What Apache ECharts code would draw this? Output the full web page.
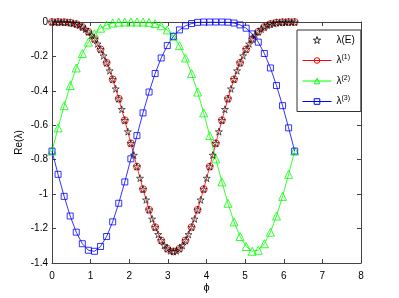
<!DOCTYPE html>
<html><head><meta charset="utf-8">
<script src="https://cdn.jsdelivr.net/npm/echarts@6/dist/echarts.min.js"></script>
<style>html,body{margin:0;padding:0;background:#fff}#c{width:399px;height:298px}</style>
</head><body><div id="c"></div>
<script>
// phi sample points (coarse, for λ(1), λ(2), λ(3))
const phi41 = [0,0.157,0.314,0.471,0.628,0.785,0.942,1.100,1.257,1.414,1.571,1.728,1.885,2.042,2.199,2.356,2.513,2.670,2.827,2.985,3.142,3.299,3.456,3.613,3.770,3.927,4.084,4.241,4.398,4.555,4.712,4.869,5.027,5.184,5.341,5.498,5.655,5.812,5.969,6.126,6.283];
// phi sample points (fine, for λ(E))
const phi81 = [0,0.079,0.157,0.236,0.314,0.393,0.471,0.550,0.628,0.707,0.785,0.864,0.942,1.021,1.100,1.178,1.257,1.335,1.414,1.492,1.571,1.649,1.728,1.806,1.885,1.963,2.042,2.120,2.199,2.278,2.356,2.435,2.513,2.592,2.670,2.749,2.827,2.906,2.985,3.063,3.142,3.220,3.299,3.377,3.456,3.534,3.613,3.691,3.770,3.848,3.927,4.006,4.084,4.163,4.241,4.320,4.398,4.477,4.555,4.634,4.712,4.791,4.869,4.948,5.027,5.105,5.184,5.262,5.341,5.419,5.498,5.576,5.655,5.733,5.812,5.890,5.969,6.048,6.126,6.205,6.283];
const lamE = [0,0,0,0,-0.001,-0.002,-0.004,-0.007,-0.012,-0.019,-0.029,-0.041,-0.057,-0.076,-0.099,-0.127,-0.159,-0.196,-0.237,-0.283,-0.333,-0.388,-0.446,-0.507,-0.571,-0.637,-0.705,-0.773,-0.840,-0.907,-0.971,-1.033,-1.091,-1.144,-1.192,-1.234,-1.269,-1.297,-1.317,-1.329,-1.333,-1.329,-1.317,-1.297,-1.269,-1.234,-1.192,-1.144,-1.091,-1.033,-0.971,-0.907,-0.840,-0.773,-0.705,-0.637,-0.571,-0.507,-0.446,-0.388,-0.333,-0.283,-0.237,-0.196,-0.159,-0.127,-0.099,-0.076,-0.057,-0.041,-0.029,-0.019,-0.012,-0.007,-0.004,-0.002,-0.001,0,0,0,0];
const lam1 = [0,0,-0.001,-0.004,-0.012,-0.029,-0.057,-0.099,-0.159,-0.237,-0.333,-0.446,-0.571,-0.705,-0.840,-0.971,-1.091,-1.192,-1.269,-1.317,-1.333,-1.317,-1.269,-1.192,-1.091,-0.971,-0.840,-0.705,-0.571,-0.446,-0.333,-0.237,-0.159,-0.099,-0.057,-0.029,-0.012,-0.004,-0.001,0,0];
const lam2 = [-0.750,-0.615,-0.486,-0.369,-0.267,-0.183,-0.117,-0.069,-0.036,-0.017,-0.006,-0.001,0,0,0,0,-0.002,-0.009,-0.022,-0.046,-0.083,-0.137,-0.209,-0.299,-0.407,-0.528,-0.660,-0.795,-0.929,-1.053,-1.161,-1.246,-1.304,-1.332,-1.326,-1.288,-1.221,-1.127,-1.013,-0.885,-0.750];
const lam3 = [-0.750,-0.885,-1.013,-1.127,-1.221,-1.288,-1.326,-1.332,-1.304,-1.246,-1.161,-1.053,-0.929,-0.795,-0.660,-0.528,-0.407,-0.299,-0.209,-0.137,-0.083,-0.046,-0.022,-0.009,-0.002,0,0,0,0,-0.001,-0.006,-0.017,-0.036,-0.069,-0.117,-0.183,-0.267,-0.369,-0.486,-0.615,-0.750];
const xTicks = [0,1,2,3,4,5,6,7,8];
const yTicks = [-1.4,-1.2,-1,-0.8,-0.6,-0.4,-0.2,0];

const zip = (xs, ys) => xs.map((x, i) => [x, ys[i]]);
const star = 'path://M50,0 L61,35 L98,35 L68,57 L79,91 L50,70 L21,91 L32,57 L2,35 L39,35 Z';
const axCol = '#444';
const font = 'Liberation Sans, Arial, sans-serif';

const chart = echarts.init(document.getElementById('c'), null, {renderer: 'canvas'});
const baseX = {type: 'value', min: xTicks[0], max: xTicks[xTicks.length-1], interval: 1,
  axisLine: {show: true, onZero: false, lineStyle: {color: axCol, width: 1}},
  axisTick: {show: true, inside: true, length: 4, lineStyle: {color: axCol}},
  splitLine: {show: false}};
const baseY = {type: 'value', min: yTicks[0], max: yTicks[yTicks.length-1], interval: 0.2,
  axisLine: {show: true, onZero: false, lineStyle: {color: axCol, width: 1}},
  axisTick: {show: true, inside: true, length: 4, lineStyle: {color: axCol}},
  splitLine: {show: false}};
chart.setOption({
  animation: false,
  backgroundColor: '#fff',
  grid: {left: 52, right: 38, top: 22, bottom: 33},
  xAxis: [
    Object.assign({}, baseX, {position: 'bottom', name: 'ϕ', nameLocation: 'middle', nameGap: 19,
      nameMoveOverlap: false,
      nameTextStyle: {color: '#000', fontSize: 11, fontFamily: font},
      axisLabel: {color: '#000', fontSize: 10, fontFamily: font, margin: 8}}),
    Object.assign({}, baseX, {position: 'top', axisLabel: {show: false}})
  ],
  yAxis: [
    Object.assign({}, baseY, {position: 'left', name: 'Re(λ)', nameLocation: 'middle', nameGap: 28,
      nameMoveOverlap: false,
      nameTextStyle: {color: '#000', fontSize: 10, fontFamily: font},
      axisLabel: {color: '#000', fontSize: 10, fontFamily: font, margin: 4}}),
    Object.assign({}, baseY, {position: 'right', axisLabel: {show: false}})
  ],
  legend: {
    orient: 'vertical', left: 297, top: 30, width: 60,
    padding: [5, 6, 5, 5], itemGap: 9, itemWidth: 29, itemHeight: 7,
    backgroundColor: '#fff', borderColor: '#333', borderWidth: 1, borderRadius: 0,
    lineStyle: {width: 1},
    itemStyle: {borderWidth: 1},
    data: ['E', '1', '2', '3'],
    formatter: function (n) { return n === 'E' ? '{b|λ(E)}' : '{b|λ}{s|(' + n + ')}'; },
    textStyle: {color: '#000', fontFamily: font, fontSize: 10,
      rich: {b: {fontSize: 10, fontFamily: font, color: '#000'},
             s: {fontSize: 7, fontFamily: font, color: '#000', padding: [0, 0, 6, 0]}}}
  },
  series: [
    {name: '1', type: 'line', data: zip(phi41, lam1), symbol: 'circle', symbolSize: 7,
     lineStyle: {color: '#ff0000', width: 0.8},
     itemStyle: {color: 'rgba(255,0,0,0)', borderColor: '#ff0000', borderWidth: 0.8}, z: 3},
    {name: '2', type: 'line', data: zip(phi41, lam2), symbol: 'triangle', symbolSize: 8,
     lineStyle: {color: '#00ff00', width: 0.8},
     itemStyle: {color: 'rgba(0,255,0,0)', borderColor: '#00ff00', borderWidth: 0.8}, z: 3},
    {name: '3', type: 'line', data: zip(phi41, lam3), symbol: 'rect', symbolSize: 6,
     lineStyle: {color: '#0000ff', width: 0.8},
     itemStyle: {color: 'rgba(0,0,255,0)', borderColor: '#0000ff', borderWidth: 0.8}, z: 3},
    {name: 'E', type: 'scatter', data: zip(phi81, lamE), symbol: star, symbolSize: 7,
     itemStyle: {color: 'rgba(0,0,0,0)', borderColor: '#000', borderWidth: 0.8}, z: 4}
  ]
});
</script></body></html>
